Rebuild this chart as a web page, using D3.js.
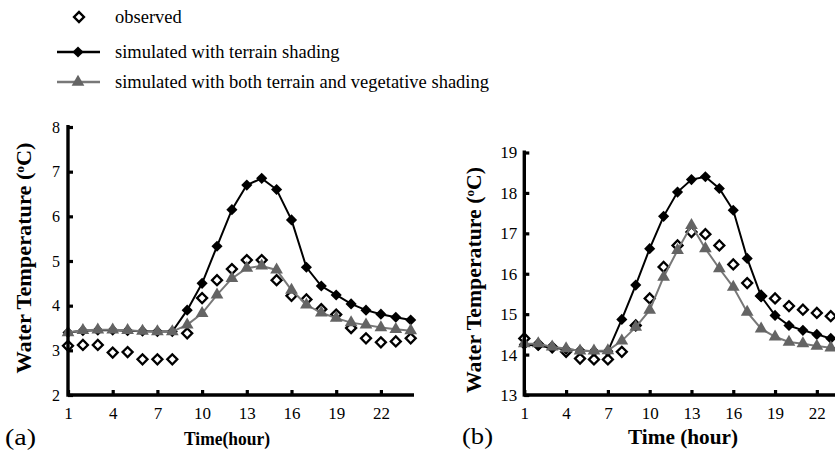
<!DOCTYPE html>
<html>
<head>
<meta charset="utf-8">
<script src="https://cdn.jsdelivr.net/npm/d3@7"></script>
<style>
  html, body { margin: 0; padding: 0; background: #fff; }
  svg { display: block; }
  text { font-family: "Liberation Serif", "Times New Roman", serif; fill: #000; }
</style>
</head>
<body>
<svg id="chart" width="835" height="454"></svg>
<script>
// ---------- data ----------
const hours = [1,2,3,4,5,6,7,8,9,10,11,12,13,14,15,16,17,18,19,20,21,22,23,24];
const xTicks = [1,4,7,10,13,16,19,22];

const obsA  = [3.10,3.12,3.12,2.95,2.96,2.80,2.80,2.80,3.38,4.17,4.57,4.82,5.02,5.02,4.57,4.22,4.14,3.92,3.80,3.50,3.27,3.18,3.20,3.27];
const terrA = [3.40,3.44,3.45,3.45,3.44,3.43,3.42,3.42,3.90,4.50,5.33,6.15,6.70,6.85,6.60,5.92,4.86,4.44,4.24,4.04,3.90,3.81,3.74,3.68];
const bothA = [3.40,3.45,3.46,3.46,3.45,3.43,3.42,3.42,3.57,3.83,4.24,4.61,4.84,4.89,4.80,4.35,4.02,3.84,3.72,3.62,3.57,3.51,3.47,3.44];
const yTicksA = [2,3,4,5,6,7,8];

const obsB  = [14.40,14.25,14.18,14.07,13.90,13.88,13.88,14.07,14.72,15.39,16.17,16.70,17.03,16.98,16.70,16.23,15.77,15.45,15.39,15.20,15.11,15.03,14.95,14.90];
const terrB = [14.25,14.22,14.17,14.13,14.10,14.08,14.08,14.87,15.72,16.62,17.42,18.02,18.33,18.40,18.11,17.57,16.38,15.44,14.97,14.72,14.60,14.50,14.40,14.35];
const bothB = [14.27,14.27,14.19,14.15,14.09,14.09,14.10,14.34,14.68,15.10,15.92,16.58,17.20,16.62,16.13,15.67,15.05,14.64,14.44,14.31,14.27,14.21,14.17,14.15];
const yTicksB = [13,14,15,16,17,18,19];

const legendLabels = ["observed", "simulated with terrain shading", "simulated with both terrain and vegetative shading"];

// ---------- styles ----------
const GRAY = "#646464";
const GRAYLINE = "#787878";
const svg = d3.select("#chart");

const diamond = d3.symbol().type(d3.symbolSquare).size(62)();
const diamondObs = d3.symbol().type(d3.symbolSquare).size(50)();
const triangle = d3.symbol().type(d3.symbolTriangle).size(70)();

function drawMarkers(g, x, y, vals, kind) {
  const sel = g.append("g").selectAll("path").data(hours).join("path")
    .attr("transform", (h, i) => `translate(${x(h)},${y(vals[i])})` + (kind === "tri" ? "" : " rotate(45)"));
  if (kind === "obs") {
    sel.attr("d", diamondObs).attr("fill", "#fff").attr("stroke", "#000").attr("stroke-width", 2.3);
  } else if (kind === "terr") {
    sel.attr("d", diamond).attr("fill", "#000");
  } else {
    sel.attr("d", triangle).attr("fill", GRAY);
  }
}

function panel(cfg) {
  const g = svg.append("g");
  const x = d3.scaleLinear().domain([1, 24]).range(cfg.xRange);
  const y = d3.scaleLinear().domain(cfg.yDomain).range(cfg.yRange);

  const line = (vals) => d3.line().x((h) => x(h)).y((h, i) => y(vals[i]))(hours);

  drawMarkers(g, x, y, cfg.obs, "obs");
  g.append("path").attr("d", line(cfg.terr)).attr("fill", "none").attr("stroke", "#000").attr("stroke-width", 2);
  drawMarkers(g, x, y, cfg.terr, "terr");
  g.append("path").attr("d", line(cfg.both)).attr("fill", "none").attr("stroke", GRAYLINE).attr("stroke-width", 2);
  drawMarkers(g, x, y, cfg.both, "tri");

  // axes
  const xAxis = d3.axisBottom(x).tickValues(xTicks).tickFormat(d3.format("d"))
    .tickSizeInner(-5).tickSizeOuter(0).tickPadding(cfg.xPad);
  const gx = g.append("g").attr("transform", `translate(0,${cfg.yRange[0]})`).call(xAxis);
  gx.attr("font-family", null).attr("font-size", null);
  gx.select(".domain").remove();
  gx.selectAll(".tick line").attr("stroke", "#000").attr("stroke-width", 3.2);
  gx.selectAll(".tick text").style("font-size", cfg.xTickFont + "px")
    .style("font-family", '"Liberation Serif", serif').attr("fill", "#000");

  const yAxis = d3.axisLeft(y).tickValues(cfg.yTicks).tickFormat(d3.format("d"))
    .tickSizeInner(-5).tickSizeOuter(0).tickPadding(cfg.yPad);
  const gy = g.append("g").attr("transform", `translate(${cfg.xRange[0]},0)`).call(yAxis);
  gy.attr("font-family", null).attr("font-size", null);
  gy.select(".domain").remove();
  gy.selectAll(".tick line").attr("stroke", "#000").attr("stroke-width", 3.2);
  gy.selectAll(".tick text").style("font-size", cfg.yTickFont + "px")
    .style("font-family", '"Liberation Serif", serif').attr("fill", "#000");

  // axis lines
  const x0 = cfg.xRange[0];
  g.append("line").attr("x1", x0).attr("x2", cfg.xEnd)
    .attr("y1", cfg.yRange[0]).attr("y2", cfg.yRange[0]).attr("stroke", "#000").attr("stroke-width", 3.4);
  g.append("line").attr("x1", x0).attr("x2", x0)
    .attr("y1", cfg.yRange[0] + 1.7).attr("y2", cfg.yRange[1] - 2).attr("stroke", "#000").attr("stroke-width", 3.4);

  // y label
  const yl = g.append("text")
    .attr("transform", `translate(${cfg.yLabelX},${cfg.yLabelY}) rotate(-90)`)
    .attr("text-anchor", "middle").attr("dy", "0.35em")
    .attr("font-size", cfg.yLabelFont).attr("font-weight", "bold")
    .attr("textLength", cfg.yLabelLen).attr("lengthAdjust", "spacingAndGlyphs");
  yl.append("tspan").text("Water Temperature (");
  yl.append("tspan").text("o").attr("font-size", cfg.yLabelFont * 0.6).attr("dy", "-0.55em");
  yl.append("tspan").text("C)").attr("dy", "0.33em");

  // x label
  g.append("text").attr("x", cfg.xLabelX).attr("y", cfg.xLabelY)
    .attr("text-anchor", "middle").attr("font-size", cfg.xLabelFont).attr("font-weight", "bold")
    .attr("textLength", cfg.xLabelLen).attr("lengthAdjust", "spacingAndGlyphs")
    .text(cfg.xLabel);

  // panel letter
  g.append("text").attr("x", cfg.letterX).attr("y", cfg.letterY)
    .attr("font-size", 23).attr("textLength", 31).attr("lengthAdjust", "spacingAndGlyphs")
    .text(cfg.letter);
}

panel({
  xRange: [68, 410.7], xEnd: 414, yDomain: [2, 8], yRange: [395, 127],
  obs: obsA, terr: terrA, both: bothA, yTicks: yTicksA,
  xTickFont: 17, yTickFont: 16, xPad: 11.5, yPad: 8,
  yLabelX: 24, yLabelY: 258, yLabelFont: 21, yLabelLen: 231,
  xLabel: "Time(hour)", xLabelX: 227, xLabelY: 445, xLabelFont: 19, xLabelLen: 86,
  letter: "(a)", letterX: 5, letterY: 445
});

panel({
  xRange: [524.3, 844.7], xEnd: 850, yDomain: [13, 19], yRange: [395, 152.5],
  obs: obsB, terr: terrB, both: bothB, yTicks: yTicksB,
  xTickFont: 17, yTickFont: 17, xPad: 11.5, yPad: 7,
  yLabelX: 474, yLabelY: 280, yLabelFont: 21, yLabelLen: 226,
  xLabel: "Time (hour)", xLabelX: 683, xLabelY: 444, xLabelFont: 20, xLabelLen: 110,
  letter: "(b)", letterX: 462, letterY: 444
});

// ---------- legend ----------
const lg = svg.append("g");
const rows = [17, 52, 82];
lg.append("path").attr("d", diamondObs).attr("transform", `translate(79,${rows[0]}) rotate(45)`)
  .attr("fill", "#fff").attr("stroke", "#000").attr("stroke-width", 2.3);
lg.append("line").attr("x1", 57).attr("x2", 100).attr("y1", rows[1]).attr("y2", rows[1]).attr("stroke", "#000").attr("stroke-width", 2.4);
lg.append("path").attr("d", diamond).attr("transform", `translate(78,${rows[1]}) rotate(45)`).attr("fill", "#000");
lg.append("line").attr("x1", 57).attr("x2", 100).attr("y1", rows[2]).attr("y2", rows[2]).attr("stroke", GRAYLINE).attr("stroke-width", 2.4);
lg.append("path").attr("d", triangle).attr("transform", `translate(78,${rows[2]})`).attr("fill", GRAY);
lg.selectAll("text.lbl").data(legendLabels).join("text").attr("class", "lbl")
  .attr("x", 115).attr("y", (d, i) => rows[i] + 6)
  .attr("font-size", 18.5).text(d => d);
</script>
</body>
</html>
